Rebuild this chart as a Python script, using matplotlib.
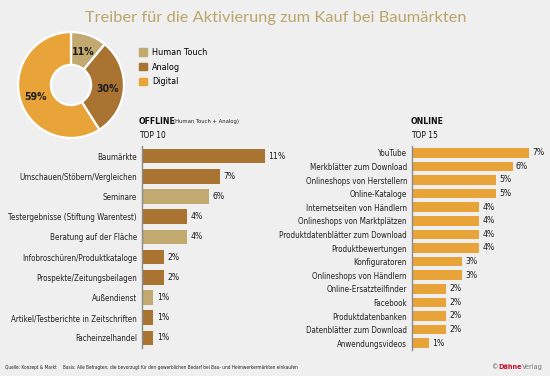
import matplotlib
matplotlib.use("Agg")
import matplotlib.pyplot as plt
from matplotlib import font_manager as fm
import numpy as np

# pie data
pie_labels = ["Human Touch", "Analog", "Digital"]
pie_values = [11, 30, 59]

# offline top 10
off_labels = ["Baumärkte", "Umschauen/Stöbern/Vergleichen", "Seminare",
              "Testergebnisse (Stiftung Warentest)", "Beratung auf der Fläche",
              "Infobroschüren/Produktkataloge", "Prospekte/Zeitungsbeilagen",
              "Außendienst", "Artikel/Testberichte in Zeitschriften", "Facheinzelhandel"]
off_values = [11, 7, 6, 4, 4, 2, 2, 1, 1, 1]
off_group = ["Analog", "Analog", "Human Touch", "Analog", "Human Touch",
             "Analog", "Analog", "Human Touch", "Analog", "Analog"]

# online top 15
on_labels = ["YouTube", "Merkblätter zum Download", "Onlineshops von Herstellern",
             "Online-Kataloge", "Internetseiten von Händlern", "Onlineshops von Marktplätzen",
             "Produktdatenblätter zum Download", "Produktbewertungen", "Konfiguratoren",
             "Onlineshops von Händlern", "Online-Ersatzteilfinder", "Facebook",
             "Produktdatenbanken", "Datenblätter zum Download", "Anwendungsvideos"]
on_values = [7, 6, 5, 5, 4, 4, 4, 4, 3, 3, 2, 2, 2, 2, 1]

colors = {"Human Touch": "#c1a970", "Analog": "#a97331", "Digital": "#e9a439"}
bg = "#efefef"

# condensed face if the system has one, otherwise Liberation Sans
_cond = fm.findfont(fm.FontProperties(family="DejaVu Sans", stretch="condensed"))
if "Condensed" in _cond:
    txt = dict(family=["DejaVu Sans"], stretch="condensed")
    scale = 1.0
else:
    txt = dict(family=["Liberation Sans", "DejaVu Sans"])
    scale = 1.04

W, H = 550, 376


def fx(px):
    return px / W


def fy(py):
    return 1 - py / H


fig = plt.figure(figsize=(5.5, 3.76), dpi=100, facecolor=bg)

# title
fig.text(fx(276), fy(18), "Treiber für die Aktivierung zum Kauf bei Baumärkten",
         ha="center", va="center", fontsize=11.8, color="#bba56a",
         family=["Lato", "DejaVu Sans"])

# donut
cx, cy, r = 71, 85, 54
ax_pie = fig.add_axes([fx(cx - r), fy(cy + r), 2 * r / W, 2 * r / H])
wedges, texts = ax_pie.pie(
    pie_values, colors=[colors[k] for k in pie_labels], startangle=90,
    counterclock=False, wedgeprops=dict(width=0.62, edgecolor="white", linewidth=1.6))
for w, v in zip(wedges, pie_values):
    ang = np.deg2rad((w.theta1 + w.theta2) / 2)
    ax_pie.text(0.7 * np.cos(ang), 0.7 * np.sin(ang) - 0.03, f"{v}%", ha="center",
                va="center", fontsize=7.6 * scale, weight="bold", color="#1a1a1a", **txt)
ax_pie.set_xlim(-1.02, 1.02)
ax_pie.set_ylim(-1.02, 1.02)
ax_pie.set_aspect("equal")
ax_pie.axis("off")

leg_handles = [plt.Rectangle((0, 0), 1, 1, color=colors[k]) for k in pie_labels]
fig.legend(leg_handles, pie_labels, loc="upper left", bbox_to_anchor=(fx(131), fy(40)),
           frameon=False, handlelength=0.85, handleheight=0.85, handletextpad=0.55,
           labelspacing=0.62, prop=dict(size=6.5 * scale, **txt))


def bar_panel(left, top, bottom, width, px_per, labels, values, cols):
    ax = fig.add_axes([fx(left), fy(bottom), width / W, (bottom - top) / H])
    ax.set_facecolor("none")
    y = list(range(len(labels)))
    bars = ax.barh(y, values, height=0.72, color=cols)
    ax.set_xlim(0, width / px_per)
    ax.set_ylim(len(labels) - 0.5, -0.5)
    ax.set_yticks(y)
    ax.set_yticklabels(labels, fontsize=5.8 * scale, color="#222222", **txt)
    ax.tick_params(axis="y", length=0, pad=3.6)
    ax.set_xticks([])
    for s in ["top", "right", "bottom"]:
        ax.spines[s].set_visible(False)
    ax.spines["left"].set_color("#8a8a8a")
    ax.spines["left"].set_linewidth(1.0)
    ax.bar_label(bars, labels=[f"{v}%" for v in values], padding=2.5,
                 fontsize=6.2 * scale, color="#1a1a1a", **txt)
    return ax


bar_panel(142, 146, 348, 140, 11.15, off_labels, off_values,
          [colors[g] for g in off_group])
bar_panel(412, 146, 350, 135, 16.75, on_labels, on_values,
          [colors["Digital"]] * len(on_values))

# section headers
fig.text(fx(139), fy(121), "OFFLINE", fontsize=6.2 * scale, weight="bold",
         va="center", color="#111111", **txt)
fig.text(fx(173), fy(121.5), "(Human Touch + Analog)", fontsize=4.2 * scale,
         va="center", color="#222222", **txt)
fig.text(fx(139), fy(135), "TOP 10", fontsize=6 * scale, va="center",
         color="#111111", **txt)
fig.text(fx(411), fy(121), "ONLINE", fontsize=6.2 * scale, weight="bold",
         va="center", color="#111111", **txt)
fig.text(fx(411), fy(135), "TOP 15", fontsize=6 * scale, va="center",
         color="#111111", **txt)

# footer
fig.text(fx(5), fy(367), "Quelle: Konzept & Markt", fontsize=3.4 * scale,
         va="center", color="#222222", **txt)
fig.text(fx(63), fy(367),
         "Basis: Alle Befragten, die bevorzugt für den gewerblichen Bedarf bei "
         "Bau- und Heimwerkermärkten einkaufen",
         fontsize=3.45 * scale, va="center", color="#222222", **txt)
fig.text(fx(543), fy(367), "Verlag", fontsize=5.2, va="center",
         ha="right", color="#777777", **txt)
fig.text(fx(521.5), fy(367), "Dähne", fontsize=5.2, weight="bold",
         va="center", ha="right", color="#c8102e", **txt)
fig.text(fx(498), fy(367), "©", fontsize=5.2, va="center",
         ha="right", color="#555555", **txt)

fig.savefig("out.png", dpi=100, facecolor=bg)
